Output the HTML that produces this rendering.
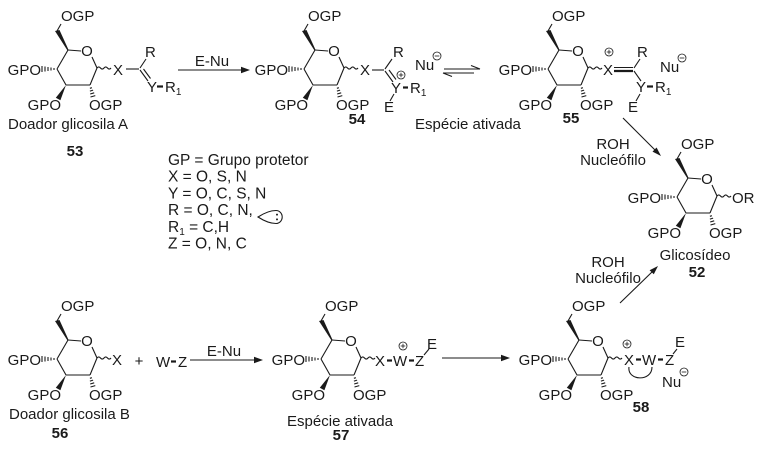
<!DOCTYPE html>
<html><head><meta charset="utf-8"><style>
html,body{margin:0;padding:0;background:#fff;}
svg{display:block;}
text{font-family:"Liberation Sans",Arial,sans-serif;font-size:15px;fill:#1a1a1a;}
.b{font-weight:bold;}
.lg{font-size:15.5px;}
.s{font-size:10px;}
line,path.l,polyline{stroke:#1a1a1a;stroke-width:1.1;fill:none;}
.th{stroke-width:2.2;}
</style></head><body>
<svg width="757" height="455" viewBox="0 0 757 455" xmlns="http://www.w3.org/2000/svg">
<defs>
<g id="ring">
<line x1="57" y1="69" x2="68" y2="50"/>
<line x1="68" y1="50" x2="81" y2="51"/>
<line x1="92" y1="57" x2="97" y2="68"/>
<line x1="97" y1="68" x2="90" y2="85"/>
<line x1="90" y1="85" x2="66" y2="85"/>
<line x1="66" y1="85" x2="57" y2="69"/>
<line x1="61" y1="24" x2="57" y2="31"/>
<polygon points="55,31 59.5,30 68.6,50 67.4,50.4" fill="#1a1a1a"/>
<line x1="54" y1="68" x2="54" y2="70"/>
<line x1="51" y1="67.5" x2="51" y2="70.5"/>
<line x1="48" y1="67" x2="48" y2="71"/>
<line x1="45" y1="66.5" x2="45" y2="71.5"/>
<line x1="42" y1="66" x2="42" y2="72"/>
<polygon points="66,85 60.4,100.3 55.8,97.7" fill="#1a1a1a"/>
<line x1="89.9" y1="88.3" x2="91.9" y2="87.7"/>
<line x1="89.9" y1="91.1" x2="93.1" y2="90.1"/>
<line x1="90.2" y1="94" x2="94.2" y2="92.8"/>
<line x1="90.5" y1="97" x2="95.3" y2="95.6"/>
<path class="l" d="M97,68 q1.75,-2.2 3.5,0 t3.5,0 t3.5,0 t3.5,0"/>
</g>
<g id="cp"><circle cx="0" cy="0" r="4" fill="#fff" stroke="#1a1a1a" stroke-width="0.8"/><line x1="-2.3" y1="0" x2="2.3" y2="0" style="stroke-width:0.8"/><line x1="0" y1="-2.3" x2="0" y2="2.3" style="stroke-width:0.8"/></g>
<g id="cm"><circle cx="0" cy="0" r="4" fill="#fff" stroke="#1a1a1a" stroke-width="0.8"/><line x1="-2.3" y1="0" x2="2.3" y2="0" style="stroke-width:0.8"/></g>
</defs>

<!-- sugars -->
<g transform="translate(0,0)"><use href="#ring"/>
<text x="61" y="21">OGP</text><text x="41" y="75" text-anchor="end">GPO</text><text x="61" y="110" text-anchor="end">GPO</text><text x="89" y="110">OGP</text><text x="87" y="56" text-anchor="middle">O</text></g>
<g transform="translate(247,0)"><use href="#ring"/>
<text x="61" y="21">OGP</text><text x="41" y="75" text-anchor="end">GPO</text><text x="61" y="110" text-anchor="end">GPO</text><text x="89" y="110">OGP</text><text x="87" y="56" text-anchor="middle">O</text></g>
<g transform="translate(491,0)"><use href="#ring"/>
<text x="61" y="21">OGP</text><text x="41" y="75" text-anchor="end">GPO</text><text x="61" y="110" text-anchor="end">GPO</text><text x="89" y="110">OGP</text><text x="87" y="56" text-anchor="middle">O</text></g>
<g transform="translate(620,128)"><use href="#ring"/>
<text x="61" y="21">OGP</text><text x="41" y="75" text-anchor="end">GPO</text><text x="61" y="110" text-anchor="end">GPO</text><text x="89" y="110">OGP</text><text x="87" y="56" text-anchor="middle">O</text></g>
<g transform="translate(0,290)"><use href="#ring"/>
<text x="61" y="21">OGP</text><text x="41" y="75" text-anchor="end">GPO</text><text x="61" y="110" text-anchor="end">GPO</text><text x="89" y="110">OGP</text><text x="87" y="56" text-anchor="middle">O</text></g>
<g transform="translate(264,290)"><use href="#ring"/>
<text x="61" y="21">OGP</text><text x="41" y="75" text-anchor="end">GPO</text><text x="61" y="110" text-anchor="end">GPO</text><text x="89" y="110">OGP</text><text x="87" y="56" text-anchor="middle">O</text></g>
<g transform="translate(511,290)"><use href="#ring"/>
<text x="61" y="21">OGP</text><text x="41" y="75" text-anchor="end">GPO</text><text x="61" y="110" text-anchor="end">GPO</text><text x="89" y="110">OGP</text><text x="87" y="56" text-anchor="middle">O</text></g>

<!-- 53 substituent -->
<text x="113" y="75">X</text>
<line x1="126" y1="69" x2="139" y2="69"/>
<line x1="140" y1="68" x2="146" y2="59"/>
<line x1="140" y1="70" x2="148" y2="81"/>
<line x1="143.5" y1="69" x2="150.5" y2="78.5"/>
<text x="145" y="57">R</text>
<text x="147" y="92">Y</text>
<line class="th" x1="157" y1="86.5" x2="163" y2="86.5"/>
<text x="165" y="92">R<tspan class="s" dy="3">1</tspan></text>
<text x="8" y="129">Doador glicosila A</text>
<text class="b" x="75" y="156" text-anchor="middle">53</text>

<!-- arrow 1 -->
<text x="212" y="66" text-anchor="middle">E-Nu</text>
<line x1="178" y1="70" x2="243" y2="70"/>
<polygon points="250,70 241,66.8 241,73.2" fill="#1a1a1a"/>

<!-- 54 substituent -->
<text x="360" y="75">X</text>
<line x1="372" y1="70" x2="384" y2="70"/>
<line x1="385" y1="69" x2="392" y2="59"/>
<line x1="385" y1="71" x2="393" y2="82"/>
<line x1="389" y1="70" x2="396" y2="79.5"/>
<text x="393" y="57">R</text>
<use href="#cp" x="401" y="75"/>
<text x="391" y="93">Y</text>
<line class="th" x1="403" y1="87.5" x2="408" y2="87.5"/>
<text x="410" y="93">R<tspan class="s" dy="3">1</tspan></text>
<line x1="394" y1="94" x2="390" y2="101"/>
<text x="384" y="112">E</text>
<text x="415" y="70">Nu</text>
<use href="#cm" x="437" y="56"/>
<text class="b" x="357" y="124" text-anchor="middle">54</text>
<text x="415" y="129">Espécie ativada</text>

<!-- equilibrium -->
<line x1="444" y1="69" x2="480" y2="69"/>
<line x1="480" y1="69" x2="471" y2="65.5"/>
<line x1="443" y1="73" x2="474" y2="73"/>
<line x1="443" y1="73" x2="452" y2="76.5"/>

<!-- 55 substituent -->
<text x="603" y="75">X</text>
<use href="#cp" x="609" y="52"/>
<line x1="614" y1="67.5" x2="633" y2="67.5"/>
<line class="th" x1="614" y1="71" x2="633" y2="71"/>
<line x1="634" y1="68" x2="640" y2="59"/>
<text x="637" y="57">R</text>
<line x1="634" y1="71" x2="641" y2="81"/>
<text x="636" y="92">Y</text>
<line class="th" x1="647" y1="86.5" x2="653" y2="86.5"/>
<text x="655" y="92">R<tspan class="s" dy="3">1</tspan></text>
<line x1="640" y1="94" x2="636" y2="101"/>
<text x="628" y="112">E</text>
<text x="660" y="72">Nu</text>
<use href="#cm" x="682" y="58"/>
<text class="b" x="571" y="123" text-anchor="middle">55</text>

<!-- arrow 55 -> 52 -->
<line x1="623" y1="118" x2="656" y2="151"/>
<polygon points="661,156 652.5,151.6 656.6,147.5" fill="#1a1a1a"/>
<text x="613" y="149" text-anchor="middle">ROH</text>
<text x="613" y="165" text-anchor="middle">Nucleófilo</text>

<!-- 52 -->
<text x="732" y="203">OR</text>
<text x="695" y="260" text-anchor="middle">Glicosídeo</text>
<text class="b" x="697" y="277" text-anchor="middle">52</text>

<!-- arrow 58 -> 52 -->
<line x1="620" y1="303" x2="653" y2="271"/>
<polygon points="658,266 653.8,274.3 649.6,270.2" fill="#1a1a1a"/>
<text x="608" y="267" text-anchor="middle">ROH</text>
<text x="608" y="283" text-anchor="middle">Nucleófilo</text>

<!-- legend -->
<text class="lg" x="168" y="165">GP = Grupo protetor</text>
<text class="lg" x="168" y="181.7">X = O, S, N</text>
<text class="lg" x="168" y="198.4">Y = O, C, S, N</text>
<text class="lg" x="168" y="215.1">R = O, C, N,</text>
<path class="l" d="M258,217 C265,212.5 270,210.5 276,210.5 A6.2,6.5 0 0 1 276,223.5 C270,223.5 265,221.5 258,217 Z"/>
<circle cx="277" cy="214.6" r="1" fill="#1a1a1a"/>
<circle cx="277" cy="219.4" r="1" fill="#1a1a1a"/>
<text class="lg" x="168" y="231.8">R<tspan class="s" dy="3">1</tspan><tspan dy="-3"> = C,H</tspan></text>
<text class="lg" x="168" y="248.5">Z = O, N, C</text>

<!-- 56 -->
<text x="112" y="365">X</text>
<text x="139" y="366" text-anchor="middle">+</text>
<text x="156" y="367">W</text>
<line class="th" x1="171" y1="361.5" x2="176" y2="361.5"/>
<text x="178" y="367">Z</text>
<text x="224" y="356" text-anchor="middle">E-Nu</text>
<line x1="190" y1="360" x2="256" y2="360"/>
<polygon points="263,360 254,356.8 254,363.2" fill="#1a1a1a"/>
<text x="9" y="419">Doador glicosila B</text>
<text class="b" x="60" y="438" text-anchor="middle">56</text>

<!-- 57 -->
<text x="375" y="366">X</text>
<line class="th" x1="387" y1="360.5" x2="392" y2="360.5"/>
<text x="393" y="366">W</text>
<line class="th" x1="409" y1="360.5" x2="414" y2="360.5"/>
<text x="415" y="366">Z</text>
<use href="#cp" x="403" y="346"/>
<line x1="424" y1="355" x2="429" y2="349"/>
<text x="427" y="349">E</text>
<text x="340" y="426" text-anchor="middle">Espécie ativada</text>
<text class="b" x="341" y="440" text-anchor="middle">57</text>
<line x1="442" y1="358" x2="503" y2="358"/>
<polygon points="510,358 501,354.8 501,361.2" fill="#1a1a1a"/>

<!-- 58 -->
<text x="624" y="365">X</text>
<use href="#cp" x="627" y="344"/>
<line class="th" x1="636" y1="359.5" x2="641" y2="359.5"/>
<text x="642" y="365">W</text>
<line class="th" x1="658" y1="359.5" x2="663" y2="359.5"/>
<text x="665" y="365">Z</text>
<line x1="673" y1="354" x2="677" y2="349"/>
<text x="675" y="347">E</text>
<path class="l" d="M629,367 C627,381 652,382 652,367"/>
<text x="662" y="387">Nu</text>
<use href="#cm" x="684" y="372"/>
<text class="b" x="641" y="412" text-anchor="middle">58</text>
</svg>
</body></html>
